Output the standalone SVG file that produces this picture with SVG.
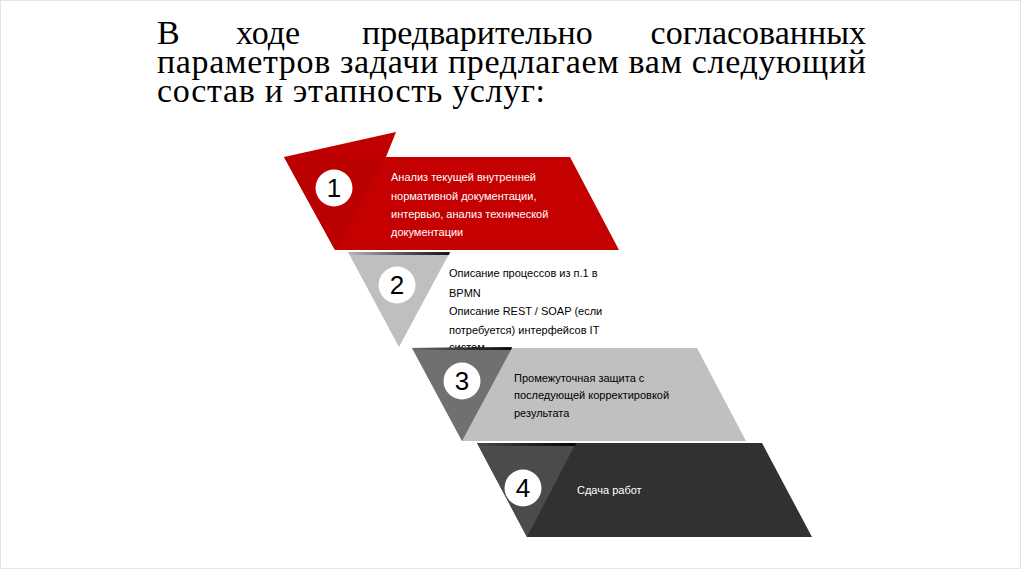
<svg xmlns="http://www.w3.org/2000/svg" width="1024" height="574" viewBox="0 0 1024 574">
<style>
.title{font-family:"Liberation Serif","Times New Roman",serif;font-size:34px;fill:#000}
.body{font-family:"Liberation Sans",Arial,sans-serif;font-size:11px}
.w{fill:#ffffff}
.k{fill:#000000}
.num{font-family:"Liberation Sans",Arial,sans-serif;font-size:26px;fill:#000;text-anchor:middle}
.circ{fill:#ffffff}
</style>
<defs>
<linearGradient id="sh" x1="0" y1="0" x2="1" y2="0">
<stop offset="0" stop-color="#000" stop-opacity="0.05"/>
<stop offset="0.6" stop-color="#000" stop-opacity="0.6"/>
<stop offset="1" stop-color="#000" stop-opacity="0.9"/>
</linearGradient>
</defs>
<rect x="0" y="0" width="1024" height="574" fill="#ffffff"/>
<rect x="0.5" y="0.5" width="1020" height="568" fill="none" stroke="#e4e4e4" stroke-width="1"/>

<g id="title">
<text class="title" x="157" y="44">В</text>
<text class="title" x="236" y="44">ходе</text>
<text class="title" x="362" y="44">предварительно</text>
<text class="title" x="866" y="44" text-anchor="end">согласованных</text>
<text class="title" x="157" y="73" textLength="709" lengthAdjust="spacing">параметров задачи предлагаем вам следующий</text>
<text class="title" x="157" y="102" textLength="388" lengthAdjust="spacing">состав и этапность услуг:</text>
</g>

<g id="step1">
<polygon points="284,157 396,132 386,157" fill="#c00000"/>
<polygon points="284,157 570,157 619,250 335,250" fill="#c40000"/>
<polygon points="284,157 386,157 335,250" fill="#bb0000"/>
<circle class="circ" cx="334" cy="188" r="18.5"/>
<text class="num" x="334" y="197">1</text>
<text class="body w" x="391" y="181">Анализ текущей внутренней</text>
<text class="body w" x="391" y="200">нормативной документации,</text>
<text class="body w" x="391" y="218">интервью, анализ технической</text>
<text class="body w" x="391" y="236">документации</text>
</g>

<g id="step2">
<polygon points="348,252 450,252 399,347" fill="#bfbfbf"/>
<polygon points="348,252 450,252 449,255 350,255" fill="url(#sh)"/>
<circle class="circ" cx="397" cy="285" r="18.5"/>
<text class="num" x="397" y="294">2</text>
<text class="body k" x="449" y="277">Описание процессов из п.1 в</text>
<text class="body k" x="449" y="297">BPMN</text>
<text class="body k" x="449" y="315">Описание REST / SOAP (если</text>
<text class="body k" x="449" y="334">потребуется) интерфейсов IT</text>
<text class="body k" x="449" y="351">систем</text>
</g>

<g id="step3">
<polygon points="412,348 697,348 746,441 462,441" fill="#c0c0c0"/>
<polygon points="412,348 512,348 462,441" fill="#707070"/>
<polygon points="412,347 512,347 511,350 414,350" fill="url(#sh)"/>
<circle class="circ" cx="462" cy="381" r="18.5"/>
<text class="num" x="462" y="390">3</text>
<text class="body k" x="514" y="382">Промежуточная защита с</text>
<text class="body k" x="514" y="399">последующей корректировкой</text>
<text class="body k" x="514" y="417">результата</text>
</g>

<g id="step4">
<polygon points="477,443 762,443 812,537 527,537" fill="#313131"/>
<polygon points="477,443 576,443 527,537" fill="#4b4b4b"/>
<polygon points="477,443 576,443 575,446 479,446" fill="url(#sh)"/>
<circle class="circ" cx="523" cy="488" r="18.5"/>
<text class="num" x="523" y="497">4</text>
<text class="body w" x="577" y="494">Сдача работ</text>
</g>

<g id="connectors"></g>
</svg>
